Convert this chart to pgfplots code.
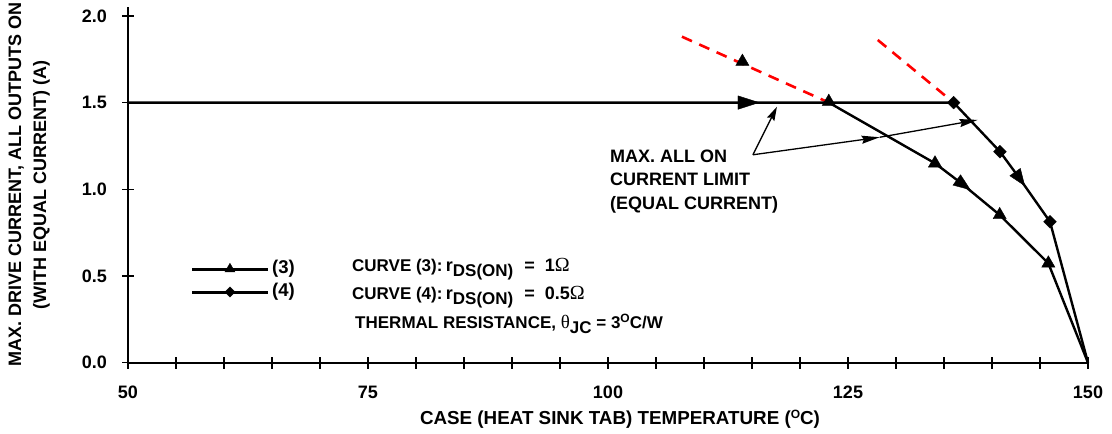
\documentclass[border=0pt]{standalone}
\usepackage{pgfplots}
\pgfplotsset{compat=1.18}
\usepackage{fontspec}
\setmainfont{Liberation Sans}
\newfontfamily\symf{Liberation Serif}
\usetikzlibrary{arrows.meta}
\newcommand{\sub}[1]{\raisebox{-5pt}{\fontsize{17}{17}\selectfont #1}}
\newcommand{\supo}{\raisebox{6pt}{\fontsize{12}{12}\selectfont O}}
\newcommand{\ohm}{{\symf\mdseries\fontsize{20}{20}\selectfont Ω}}

\begin{document}
\begin{tikzpicture}[font=\bfseries\fontsize{18}{22}\selectfont]
\begin{axis}[
  at={(0,0)}, anchor=south west,
  scale only axis, width=960pt, height=355.5pt,
  xmin=50, xmax=150, ymin=0, ymax=2.05,
  clip=false,
  axis lines*=left,
  axis line style={line width=1.8pt},
  xtick={50,75,100,125,150}, minor x tick num=4,
  ytick={0,0.5,1,1.5,2},
  tick align=center,
  major tick length=12pt, minor tick length=12pt,
  every tick/.style={black, line width=1.5pt},
  /pgf/number format/assume math mode=true,
  yticklabel style={/pgf/number format/.cd, fixed, fixed zerofill, precision=1, /tikz/.cd, inner sep=0pt, anchor=east, xshift=-15pt},
  xticklabel style={inner sep=0pt, anchor=north, yshift=-17pt},
  xlabel={CASE (HEAT SINK TAB) TEMPERATURE (\supo C)},
  xlabel style={at={(axis description cs:0.5125,-0.133)}, anchor=north, inner sep=0pt, font=\bfseries\fontsize{18.8}{22}\selectfont},
  ylabel={MAX. DRIVE CURRENT, ALL OUTPUTS ON\\(WITH EQUAL CURRENT) (A)},
  ylabel style={at={(axis description cs:-0.0813,0.5)}, anchor=south, inner sep=0pt, align=center, font=\bfseries\fontsize{18}{25}\selectfont},
]
% legend (key), drawn on the axis
\addplot[black, line width=2.5pt] coordinates {(56.67,0.537) (64.58,0.537)};
\addplot[only marks, mark=triangle*, mark size=5.8pt, black, mark options={line width=0.4pt}] coordinates {(60.62,0.540)};
\addplot[black, line width=2.5pt] coordinates {(56.67,0.405) (64.58,0.405)};
\addplot[only marks, mark=square*, mark size=3.6pt, black, mark options={rotate=45, line width=0.4pt}] coordinates {(60.62,0.408)};
\node[anchor=west, inner sep=0pt, font=\bfseries\fontsize{18.5}{20}\selectfont] at (axis cs:65.0,0.540) {(3)};
\node[anchor=west, inner sep=0pt, font=\bfseries\fontsize{18.5}{20}\selectfont] at (axis cs:65.0,0.408) {(4)};

% red dashed extrapolations
\addplot[red, line width=2.6pt, dash pattern=on 11pt off 8pt] coordinates {(107.7,1.88) (123.0,1.5)};
\addplot[red, line width=2.6pt, dash pattern=on 11pt off 8pt] coordinates {(128.1,1.861) (136.0,1.5)};

% curve (4) including the shared 1.5 A limit line
\addplot[black, line width=2.4pt] coordinates {(50,1.5) (136.0,1.5) (140.83,1.217) (142.74,1.073) (146.04,0.813) (150,0)};
% curve (3)
\addplot[black, line width=2.4pt] coordinates {(123.0,1.5) (134.06,1.15) (136.8,1.035) (140.8,0.852) (145.87,0.573) (150,0)};

% markers curve (3)
\addplot[only marks, mark=triangle*, mark size=7.6pt, black, mark options={line width=0.4pt}] coordinates {(123.0,1.505) (134.06,1.15) (140.8,0.852) (145.87,0.573) (114.0,1.736)};
% markers curve (4)
\addplot[only marks, mark=square*, mark size=4.5pt, black, mark options={rotate=45, line width=0.4pt}] coordinates {(136.0,1.5) (140.83,1.217) (146.04,0.813)};
% direction arrows
\addplot[only marks, mark=triangle*, mark size=7.8pt, black, mark options={rotate=-90, yscale=1.8, line width=0.4pt}] coordinates {(114.27,1.5)};
\addplot[only marks, mark=triangle*, mark size=7.4pt, black, mark options={rotate=-126, yscale=1.5, line width=0.4pt}] coordinates {(136.8,1.035)};
\addplot[only marks, mark=triangle*, mark size=7.4pt, black, mark options={rotate=-145, yscale=1.5, line width=0.4pt}] coordinates {(142.74,1.073)};

% annotation
\node[anchor=north west, inner sep=0pt, align=left, font=\bfseries\fontsize{18}{23.3}\selectfont] at (axis cs:100.2,1.228) {MAX. ALL ON\\CURRENT LIMIT\\(EQUAL CURRENT)};
\draw[line width=1.3pt, -{Stealth[length=14pt,width=8pt,inset=2pt]}] (axis cs:115.1,1.199) -- (axis cs:117.6,1.476);
\draw[line width=1.3pt, -{Stealth[length=18pt,width=8pt,inset=2pt]}] (axis cs:115.1,1.199) -- (axis cs:128.3,1.30);
\draw[line width=1.3pt, -{Stealth[length=18pt,width=8pt,inset=2pt]}] (axis cs:128.3,1.30) -- (axis cs:138.5,1.40);

% curve descriptions
\node[anchor=base west, inner sep=0pt, font=\bfseries\fontsize{17}{22}\selectfont] at (axis cs:73.33,0.5245) {CURVE (3):};
\node[anchor=base west, inner sep=0pt] at (axis cs:83.1,0.5245) {r\sub{DS(ON)}\hspace{6pt} = \hspace{5pt}1\ohm};
\node[anchor=base west, inner sep=0pt, font=\bfseries\fontsize{17}{22}\selectfont] at (axis cs:73.33,0.363) {CURVE (4):};
\node[anchor=base west, inner sep=0pt] at (axis cs:83.1,0.363) {r\sub{DS(ON)}\hspace{6pt} = \hspace{5pt}0.5\ohm};
\node[anchor=base west, inner sep=0pt, font=\bfseries\fontsize{17}{22}\selectfont] at (axis cs:73.65,0.196) {THERMAL RESISTANCE, {\symf\mdseries\fontsize{19}{19}\selectfont θ}\sub{JC} = 3\supo C/W};
\end{axis}
\pgfresetboundingbox
\path[use as bounding box] (-128pt,-71.3pt) rectangle (984pt,362.7pt);
\end{tikzpicture}
\end{document}
